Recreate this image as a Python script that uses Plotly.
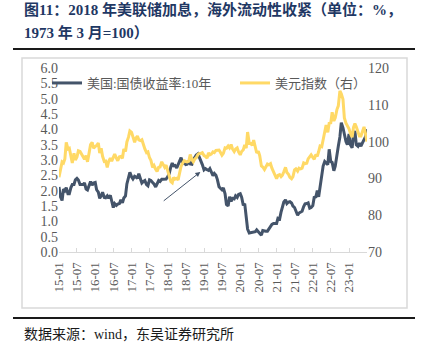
import pandas as pd
import plotly.graph_objects as go

# semi-monthly observations (1st & 15th), 2015-01 .. 2023-07
dates = pd.date_range("2015-01-01", "2023-07-01", freq="SMS")

us10y = [
    # 2015
    2.12, 1.80, 1.68, 2.05, 2.00, 2.10, 1.90, 1.90, 2.10, 2.20, 2.20, 2.35,
    2.40, 2.35, 2.20, 2.20, 2.20, 2.25, 2.05, 2.02, 2.15, 2.30, 2.18, 2.25,
    # 2016
    2.27, 2.03, 1.95, 1.75, 1.83, 1.95, 1.78, 1.77, 1.83, 1.75, 1.85, 1.60,
    1.45, 1.58, 1.52, 1.56, 1.58, 1.70, 1.60, 1.76, 1.83, 2.22, 2.45, 2.60,
    # 2017
    2.45, 2.38, 2.47, 2.45, 2.40, 2.55, 2.38, 2.25, 2.30, 2.33, 2.20, 2.16,
    2.35, 2.33, 2.27, 2.22, 2.12, 2.20, 2.33, 2.30, 2.37, 2.37, 2.37, 2.38,
    # 2018
    2.46, 2.55, 2.78, 2.90, 2.81, 2.82, 2.74, 2.83, 2.97, 3.08, 2.89, 2.92,
    2.85, 2.86, 2.98, 2.87, 2.86, 3.00, 3.09, 3.16, 3.20, 3.10, 2.99, 2.85,
    # 2019
    2.68, 2.72, 2.68, 2.66, 2.72, 2.59, 2.49, 2.56, 2.50, 2.37, 2.13, 2.08,
    2.03, 2.09, 1.90, 1.55, 1.50, 1.80, 1.65, 1.75, 1.73, 1.83, 1.78, 1.88,
    # 2020
    1.90, 1.79, 1.52, 1.58, 1.10, 0.75, 0.62, 0.63, 0.63, 0.65, 0.66, 0.72,
    0.67, 0.62, 0.55, 0.70, 0.68, 0.68, 0.68, 0.75, 0.85, 0.90, 0.93, 0.92,
    # 2021
    0.93, 1.10, 1.08, 1.30, 1.45, 1.63, 1.70, 1.58, 1.63, 1.64, 1.60, 1.50,
    1.45, 1.30, 1.20, 1.27, 1.30, 1.33, 1.48, 1.57, 1.58, 1.60, 1.43, 1.45,
    # 2022
    1.51, 1.78, 1.80, 2.00, 1.80, 2.15, 2.40, 2.80, 2.95, 2.90, 2.85, 3.35,
    2.95, 2.92, 2.65, 2.80, 3.25, 3.45, 3.75, 4.22, 4.05, 3.80, 3.60, 3.50,
    # 2023
    3.85, 3.50, 3.40, 3.80, 3.95, 3.50, 3.45, 3.55, 3.45, 3.55, 3.65, 3.75, 4.00,
]

dxy = [
    # 2015
    90.3, 92.5, 94.5, 94.2, 95.3, 99.8, 98.0, 98.2, 95.5, 94.2, 96.8, 95.0,
    95.8, 97.5, 97.3, 96.6, 95.8, 95.2, 96.2, 94.5, 97.0, 99.2, 99.8, 98.2,
    # 2016
    98.7, 98.9, 99.6, 96.9, 98.2, 96.0, 94.6, 94.7, 93.0, 94.6, 95.5, 94.7,
    95.7, 96.6, 95.5, 94.8, 95.9, 96.0, 95.5, 98.0, 97.3, 99.9, 101.2, 102.9,
    # 2017
    102.5, 101.0, 99.8, 101.0, 101.5, 100.5, 100.3, 100.5, 99.0, 98.0, 97.0, 97.2,
    95.6, 94.9, 93.0, 93.5, 92.5, 91.9, 93.0, 93.1, 94.5, 93.6, 93.0, 93.6,
    # 2018
    92.2, 90.8, 89.1, 88.8, 90.3, 89.8, 90.0, 89.6, 92.2, 93.3, 94.2, 94.8,
    94.6, 94.5, 94.7, 96.5, 95.1, 94.5, 95.3, 95.6, 96.5, 96.8, 96.8, 97.0,
    # 2019
    96.2, 96.0, 95.5, 96.9, 96.4, 96.6, 97.2, 97.0, 97.6, 97.6, 97.7, 97.1,
    96.3, 96.8, 98.3, 98.2, 98.8, 98.3, 99.2, 98.0, 97.3, 98.0, 98.3, 97.2,
    # 2020
    96.4, 97.3, 97.8, 99.1, 98.2, 102.6, 99.5, 99.5, 99.0, 100.4, 98.3, 96.9,
    97.4, 96.2, 93.4, 93.1, 92.4, 93.0, 93.9, 93.7, 94.0, 92.8, 91.8, 90.5,
    # 2021
    89.9, 90.8, 91.0, 90.5, 90.9, 91.8, 93.0, 91.6, 91.1, 90.3, 89.9, 90.5,
    92.3, 92.6, 92.0, 92.8, 92.6, 92.8, 94.2, 94.0, 94.1, 95.3, 96.0, 96.4,
    # 2022
    95.7, 95.2, 96.5, 96.0, 97.3, 98.8, 98.6, 100.5, 103.0, 104.5, 102.5, 105.0,
    105.1, 108.0, 105.6, 106.5, 108.7, 109.7, 113.8, 113.0, 111.5, 106.4, 105.0, 104.2,
    # 2023
    103.5, 102.2, 101.2, 103.9, 104.9, 104.0, 102.5, 101.5, 101.5, 102.5, 104.0, 102.3, 100.0,
]

tick_vals = pd.date_range("2015-01-01", "2023-01-01", freq="6MS")
tick_text = [d.strftime("%y-%m") for d in tick_vals]

name_yield = "美国:国债收益率:10年"
name_dxy = "美元指数（右）"
title_l1 = "图11：2018 年美联储加息，海外流动性收紧（单位：%，"
title_l2 = "1973 年 3 月=100）"
source_txt = "数据来源：wind，东吴证券研究所"

W, H = 425, 354
L, R, T, B = 59, 367, 68, 252   # plot area in pixels


def px(x):
    return (x - L) / (R - L)


def py(y):
    return (B - y) / (B - T)


SERIF = "Times New Roman, Liberation Serif, Noto Sans CJK SC, serif"
GRAY = "#595959"
NAVY = "#44546a"
GOLD = "#ffd966"

fig = go.Figure()
fig.add_trace(go.Scatter(x=dates, y=us10y, name=name_yield, mode="lines",
                         line=dict(color=NAVY, width=3), yaxis="y", legend="legend"))
fig.add_trace(go.Scatter(x=dates, y=dxy, name=name_dxy, mode="lines",
                         line=dict(color=GOLD, width=3), yaxis="y2", legend="legend2"))

leg_common = dict(orientation="v", xanchor="left", yanchor="top",
                  font=dict(family=SERIF, size=13, color=GRAY),
                  bgcolor="rgba(0,0,0,0)", itemwidth=30)

fig.update_layout(
    width=W, height=H,
    margin=dict(l=L, r=W - R, t=T, b=H - B),
    paper_bgcolor="white", plot_bgcolor="white",
    font=dict(family=SERIF, color=GRAY, size=13),
    showlegend=True,
    legend=dict(x=px(47), y=py(68), **leg_common),
    legend2=dict(x=px(235), y=py(68), **leg_common),
    xaxis=dict(range=["2015-01-01", "2023-07-01"], type="date",
               tickvals=list(tick_vals), ticktext=tick_text, tickangle=-90,
               showgrid=False, zeroline=False, showline=True, linecolor="#d9d9d9",
               linewidth=1, ticks="inside", ticklen=4, tickcolor="#d9d9d9",
               ticklabelstandoff=4,
               tickfont=dict(family=SERIF, size=13, color=GRAY)),
    yaxis=dict(range=[0, 6], dtick=0.5, tickformat=".1f", showgrid=False,
               zeroline=False, showline=False, ticks="",
               tickfont=dict(family=SERIF, size=14, color=GRAY)),
    yaxis2=dict(range=[70, 120], dtick=10, overlaying="y", side="right",
                showgrid=False, zeroline=False, showline=False, ticks="",
                tickfont=dict(family=SERIF, size=14, color=GRAY)),
    shapes=[
        dict(type="rect", xref="paper", yref="paper", x0=px(22), x1=px(407),
             y0=py(308), y1=py(58), line=dict(color="#d9d9d9", width=1.5), layer="below"),
        dict(type="line", xref="paper", yref="paper", x0=px(13), x1=px(415),
             y0=py(49), y1=py(49), line=dict(color="#1a1a1a", width=2)),
        dict(type="line", xref="paper", yref="paper", x0=px(13), x1=px(415),
             y0=py(318), y1=py(318), line=dict(color="#1a1a1a", width=2)),
    ],
    annotations=[
        dict(text=title_l1, xref="paper", yref="paper", x=px(22), y=py(9),
             xanchor="left", yanchor="middle", showarrow=False,
             font=dict(family=SERIF, size=15, color="#1f3864", weight="bold")),
        dict(text=title_l2, xref="paper", yref="paper", x=px(22), y=py(33),
             xanchor="left", yanchor="middle", showarrow=False,
             font=dict(family=SERIF, size=15, color="#1f3864", weight="bold")),
        dict(text=source_txt, xref="paper", yref="paper", x=px(22), y=py(334),
             xanchor="left", yanchor="middle", showarrow=False,
             font=dict(family=SERIF, size=14, color="#1a1a1a")),
        dict(x="2018-11-25", y=2.61, ax="2017-11-06", ay=1.63, xref="x", yref="y",
             axref="x", ayref="y", text="", showarrow=True, arrowhead=2,
             arrowsize=1, arrowwidth=1, arrowcolor=NAVY),
    ],
)

fig.write_html("out.html")
